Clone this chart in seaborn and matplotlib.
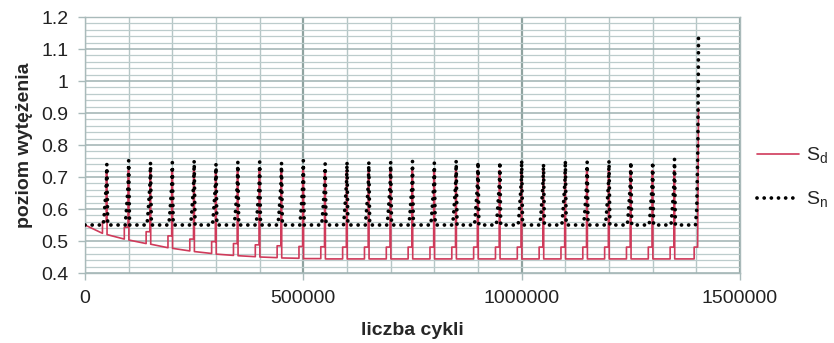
import numpy as np
import pandas as pd
import matplotlib
matplotlib.use("Agg")
import matplotlib.pyplot as plt
from matplotlib.ticker import MultipleLocator
import seaborn as sns

# ---------------- data ----------------
# cycle counts at which load spikes occur
spike_cycles = [50000, 100000, 150000, 200000, 250000, 300000, 350000, 400000,
                450000, 500000, 550000, 600000, 650000, 700000, 750000, 800000,
                850000, 900000, 950000, 1000000, 1050000, 1100000, 1150000,
                1200000, 1250000, 1300000, 1350000]
final_cycle = 1405000

# Sn: flat level and the peak of each spike
sn_level = 0.55
sn_peaks = [0.740, 0.751, 0.745, 0.745, 0.751, 0.741, 0.747, 0.747, 0.744,
            0.751, 0.741, 0.747, 0.747, 0.747, 0.749, 0.744, 0.751, 0.747,
            0.747, 0.752, 0.741, 0.751, 0.747, 0.751, 0.747, 0.747, 0.756]
sn_final = 1.15

# Sd: start value, baseline just before each spike, baseline just after it
sd_start = 0.55
sd_before = [0.524, 0.506, 0.492, 0.479, 0.469, 0.461, 0.455, 0.451, 0.448,
             0.446, 0.445, 0.444, 0.444, 0.444, 0.444, 0.444, 0.444, 0.444,
             0.444, 0.444, 0.444, 0.444, 0.444, 0.444, 0.444, 0.444, 0.444, 0.444]
sd_after = [0.520, 0.503, 0.490, 0.477, 0.467, 0.459, 0.454, 0.450, 0.447,
            0.445, 0.444, 0.444, 0.444, 0.444, 0.444, 0.444, 0.444, 0.444,
            0.444, 0.444, 0.444, 0.444, 0.444, 0.444, 0.444, 0.444, 0.444]
sd_step = 0.037        # small plateau before each spike
sd_peak = 0.72         # red spike height
sd_final = 0.915

# ---------------- build the polylines ----------------
sd_x, sd_y = [0], [sd_start]
for k, xc in enumerate(spike_cycles):
    b = sd_before[k]
    sd_x += [xc - 10000, xc - 10000, xc - 1500, xc - 1500, xc + 500, xc + 500]
    sd_y += [b, b + sd_step, b + sd_step, sd_peak, sd_peak, sd_after[k]]
b = sd_before[-1]
sd_x += [final_cycle - 10000, final_cycle - 10000, final_cycle - 2000, final_cycle]
sd_y += [b, b + sd_step, b + sd_step, sd_final]

sn_x, sn_y = [0], [sn_level]
for k, xc in enumerate(spike_cycles):
    sn_x += [xc - 8000, xc - 5500, xc - 3000, xc - 800, xc, xc + 1500, xc + 2000]
    sn_y += [sn_level, 0.59, 0.64, 0.69, sn_peaks[k], 0.60, sn_level]
sn_x += [final_cycle - 7000, final_cycle - 4000, final_cycle - 1500, final_cycle]
sn_y += [sn_level, 0.60, 0.80, sn_final]

df_d = pd.DataFrame({"cykle": sd_x, "S": sd_y})
df_n = pd.DataFrame({"cykle": sn_x, "S": sn_y})

# ---------------- plot ----------------
sns.set_theme(style="white")
plt.rcParams["font.family"] = ["Liberation Sans", "DejaVu Sans"]

fig = plt.figure(figsize=(8.34, 3.43), dpi=100)
ax = fig.add_axes([85 / 834, 1 - 273 / 343, (740 - 85) / 834, (273 - 17) / 343])

red = "#cf3a5a"
sns.lineplot(data=df_d, x="cykle", y="S", ax=ax, sort=False, estimator=None,
             color=red, linewidth=1.2, label=r"S$_\mathregular{d}$", zorder=3)
sns.lineplot(data=df_n, x="cykle", y="S", ax=ax, sort=False, estimator=None,
             color="black", linewidth=2.7, linestyle=(0, (0.01, 1.9)),
             dash_capstyle="round", label=r"S$_\mathregular{n}$", zorder=4)

ax.set_xlim(0, 1500000)
ax.set_ylim(0.4, 1.2)
ax.xaxis.set_major_locator(MultipleLocator(500000))
ax.xaxis.set_minor_locator(MultipleLocator(100000))
ax.yaxis.set_major_locator(MultipleLocator(0.1))
ax.yaxis.set_minor_locator(MultipleLocator(0.02))
ax.set_yticks([0.4, 0.5, 0.6, 0.7, 0.8, 0.9, 1.0, 1.1, 1.2])
ax.set_yticklabels(["0.4", "0.5", "0.6", "0.7", "0.8", "0.9", "1", "1.1", "1.2"])
ax.set_xticks([0, 500000, 1000000, 1500000])
ax.set_xticklabels(["0", "500000", "1000000", "1500000"])

ax.grid(which="major", axis="x", color="#8fa3a0", linewidth=1.6)
ax.grid(which="minor", axis="x", color="#b5c6c6", linewidth=1.0)
ax.grid(which="major", axis="y", color="#9fb2b2", linewidth=1.1)
ax.grid(which="minor", axis="y", color="#bccccc", linewidth=0.9)
ax.set_axisbelow(True)

for s in ax.spines.values():
    s.set_color("#a9baba")
    s.set_linewidth(1.0)

ax.tick_params(axis="both", which="major", labelsize=14, length=5, width=1,
               color="#a9baba", labelcolor="#222222", pad=7,
               bottom=True, left=True)
ax.tick_params(axis="both", which="minor", length=0)

ax.set_xlabel("liczba cykli", fontsize=14, fontweight="bold", labelpad=11)
ax.set_ylabel("poziom wytężenia", fontsize=14, fontweight="bold", labelpad=6)

leg = ax.legend(loc="center left", bbox_to_anchor=(757 / 834, 1 - 178 / 343),
                bbox_transform=fig.transFigure, frameon=False,
                fontsize=14, handlelength=2.15, labelspacing=1.25,
                handletextpad=0.35, borderpad=0, borderaxespad=0)

fig.savefig("out.png", dpi=100)
